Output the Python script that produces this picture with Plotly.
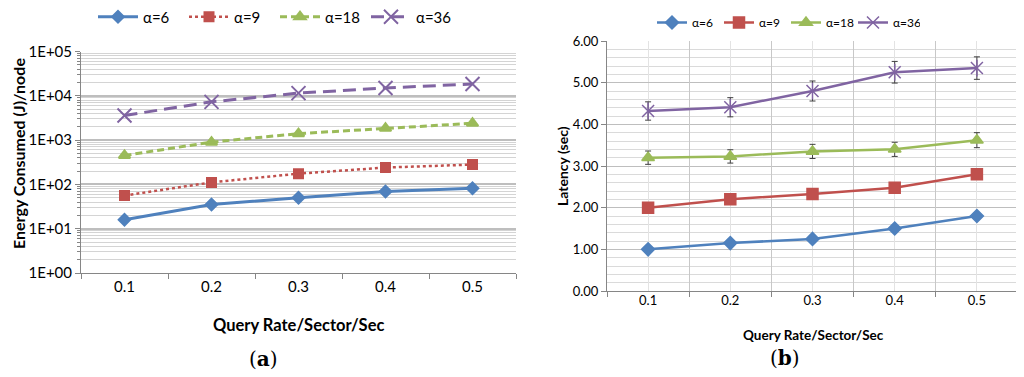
import plotly.graph_objects as go

rates = ["0.1", "0.2", "0.3", "0.4", "0.5"]
names = ["α=6", "α=9", "α=18", "α=36"]

energy_a6 = [16, 35, 50, 69, 82]
energy_a9 = [56, 111, 175, 240, 280]
energy_a18 = [450, 900, 1400, 1850, 2400]
energy_a36 = [3600, 7300, 11500, 15000, 18500]

latency_a6 = [1.00, 1.15, 1.25, 1.50, 1.80]
latency_a9 = [2.00, 2.20, 2.33, 2.48, 2.80]
latency_a18 = [3.20, 3.23, 3.35, 3.40, 3.62]
latency_a36 = [4.32, 4.41, 4.80, 5.25, 5.35]

err_a6 = [0.04, 0.04, 0.04, 0.05, 0.05]
err_a9 = [0.05, 0.05, 0.05, 0.06, 0.07]
err_a18 = [0.16, 0.16, 0.17, 0.17, 0.18]
err_a36 = [0.22, 0.23, 0.24, 0.26, 0.27]

energy_ticks = [1, 10, 100, 1000, 10000, 100000]
energy_ticktext = ["1E+00", "1E+01", "1E+02", "1E+03", "1E+04", "1E+05"]
latency_ticks = [0, 1, 2, 3, 4, 5, 6]
latency_ticktext = ["0.00", "1.00", "2.00", "3.00", "4.00", "5.00", "6.00"]

colors = ["#4F81BD", "#C0504D", "#9BBB59", "#8064A2"]
FONT = "Lato, 'Open Sans', sans-serif"
SERIF = "'DejaVu Serif', 'Liberation Serif', serif"

# the page body has an 8px default margin, so the figure is 8px smaller
OFF = 8
W, H = 1024 - OFF, 377 - OFF
def px(x):
    return (x - OFF) / W
def py(y):
    return 1 - (y - OFF) / H

fig = go.Figure()

# ---------------- left chart (a) ----------------
left_styles = [
    dict(dash="solid", width=3, symbol="diamond", size=9),
    dict(dash="dot", width=2.5, symbol="square", size=9),
    dict(dash="7px,4px", width=3, symbol="triangle-up", size=10),
    dict(dash="13px,7px", width=3, symbol="x-thin-open", size=14),
]
energies = [energy_a6, energy_a9, energy_a18, energy_a36]
for i, (nm, vals, st) in enumerate(zip(names, energies, left_styles)):
    fig.add_trace(go.Scatter(
        x=rates, y=vals, name=nm, mode="lines+markers",
        line=dict(color=colors[i], width=st["width"], dash=st["dash"]),
        marker=dict(symbol=st["symbol"], size=st["size"], color=colors[i],
                    line=dict(color=colors[i], width=2)),
        xaxis="x", yaxis="y", legend="legend",
    ))

# ---------------- right chart (b) ----------------
# invisible trace so the base subplot (centre gridlines) is drawn
fig.add_trace(go.Scatter(x=rates, y=latency_a6, mode="lines", opacity=0,
                         showlegend=False, hoverinfo="skip",
                         xaxis="x2", yaxis="y2"))

latencies = [latency_a6, latency_a9, latency_a18, latency_a36]
errs = [err_a6, err_a9, err_a18, err_a36]
right_symbols = ["diamond", "square", "triangle-up", "x-thin-open"]
right_sizes = [10, 11, 11, 12]
for i, (nm, vals, er) in enumerate(zip(names, latencies, errs)):
    fig.add_trace(go.Scatter(
        x=rates, y=vals, name=nm, mode="lines+markers",
        line=dict(color=colors[i], width=2.5),
        marker=dict(symbol=right_symbols[i], size=right_sizes[i], color=colors[i],
                    line=dict(color=colors[i], width=1.5)),
        error_y=dict(type="data", array=er, visible=True, color="#404040",
                     thickness=1, width=3),
        xaxis="x3", yaxis="y2", legend="legend2",
    ))
# vertical stroke of the star marker for α=36
fig.add_trace(go.Scatter(
    x=rates, y=latency_a36, mode="markers", showlegend=False, hoverinfo="skip",
    marker=dict(symbol="line-ns-open", size=12, color=colors[3],
                line=dict(color=colors[3], width=1.5)),
    xaxis="x3", yaxis="y2",
))

axis_gray = "#868686"
fig.update_layout(
    width=W, height=H,
    margin=dict(l=0, r=0, t=0, b=0, pad=0, autoexpand=False),
    paper_bgcolor="white", plot_bgcolor="white",
    font=dict(family=FONT, color="#000000"),
    xaxis=dict(
        domain=[px(81), px(516)], anchor="y",
        type="category", categoryorder="array", categoryarray=rates,
        range=[-0.5, 4.5], tickson="boundaries", ticks="outside", ticklen=5,
        tickcolor=axis_gray, showgrid=False, showline=True, linecolor=axis_gray,
        linewidth=1, tickfont=dict(size=15), fixedrange=True, zeroline=False,
        automargin=False,
    ),
    yaxis=dict(
        domain=[py(273), py(51.5)], anchor="x",
        type="log", range=[0, 5], tickvals=energy_ticks, ticktext=energy_ticktext,
        ticks="outside", ticklen=5, tickcolor=axis_gray, tickfont=dict(size=15),
        showgrid=True, gridcolor="#BEBEBE", gridwidth=1.5,
        minor=dict(dtick="D1", showgrid=True, gridcolor="#D4D4D4", gridwidth=1,
                   ticks="outside", ticklen=3, tickcolor=axis_gray),
        showline=True, linecolor=axis_gray, linewidth=1, zeroline=False,
        automargin=False,
    ),
    xaxis2=dict(
        domain=[px(607), px(1018)], anchor="y2",
        type="category", categoryorder="array", categoryarray=rates,
        range=[-0.5, 4.5], tickson="labels", ticks="", showgrid=True,
        gridcolor="#E3E3E3", gridwidth=1, showline=False,
        tickfont=dict(size=13), zeroline=False, automargin=False,
    ),
    xaxis3=dict(
        overlaying="x2", anchor="y2",
        type="category", categoryorder="array", categoryarray=rates,
        range=[-0.5, 4.5], tickson="boundaries", ticks="outside", ticklen=5,
        tickcolor=axis_gray, showgrid=True, gridcolor="#C8C8C8", gridwidth=1,
        showticklabels=False, showline=True, linecolor=axis_gray, zeroline=False,
        automargin=False,
    ),
    yaxis2=dict(
        domain=[py(291), py(41)], anchor="x2",
        range=[0, 6], tickvals=latency_ticks, ticktext=latency_ticktext,
        ticks="outside", ticklen=5, tickcolor=axis_gray, tickfont=dict(size=13),
        showgrid=True, gridcolor="#BEBEBE", gridwidth=1.2,
        minor=dict(dtick=0.2, showgrid=True, gridcolor="#DADADA", gridwidth=1),
        showline=True, linecolor=axis_gray, zeroline=False, automargin=False,
    ),
    legend=dict(
        orientation="h", x=px(93), y=py(17), xanchor="left", yanchor="middle",
        font=dict(size=15), bgcolor="rgba(0,0,0,0)", itemwidth=40,
        entrywidth=36, entrywidthmode="pixels", tracegroupgap=0,
    ),
    legend2=dict(
        orientation="h", x=px(652), y=1, xanchor="left", yanchor="top",
        font=dict(size=12), bgcolor="rgba(0,0,0,0)", itemwidth=30,
        entrywidth=22, entrywidthmode="pixels",
    ),
    showlegend=True,
    annotations=[
        dict(text="<b>Energy Consumed (J)/node</b>", x=px(19), y=py(154),
             xref="paper", yref="paper", textangle=-90, showarrow=False,
             font=dict(size=16), xanchor="center", yanchor="middle"),
        dict(text="<b>Query Rate/Sector/Sec</b>", x=px(298), y=py(325),
             xref="paper", yref="paper", showarrow=False,
             font=dict(size=16.5), xanchor="center", yanchor="middle"),
        dict(text="(<b>a</b>)", x=px(263), y=py(359),
             xref="paper", yref="paper", showarrow=False,
             font=dict(size=20, family=SERIF),
             xanchor="center", yanchor="middle"),
        dict(text="<b>Latency (sec)</b>", x=px(562), y=py(166),
             xref="paper", yref="paper", textangle=-90, showarrow=False,
             font=dict(size=14), xanchor="center", yanchor="middle"),
        dict(text="<b>Query Rate/Sector/Sec</b>", x=px(813), y=py(335),
             xref="paper", yref="paper", showarrow=False,
             font=dict(size=13.5), xanchor="center", yanchor="middle"),
        dict(text="(<b>b</b>)", x=px(785), y=py(358),
             xref="paper", yref="paper", showarrow=False,
             font=dict(size=20, family=SERIF),
             xanchor="center", yanchor="middle"),
    ],
)

fig.write_html("out.html")
